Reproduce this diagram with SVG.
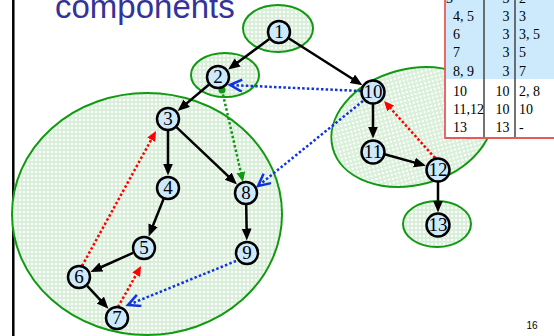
<svg xmlns="http://www.w3.org/2000/svg" width="554" height="336" viewBox="0 0 554 336">
<style>
.ell{fill:url(#dots);stroke:#129912;stroke-width:2}
.nd{fill:#cdeafd;stroke:#000;stroke-width:2.5}
.lb{font-family:"Liberation Serif","Times New Roman",serif;font-size:19px;text-anchor:middle;fill:#000}
.tr{fill:none;stroke:#000;stroke-width:2.5;marker-end:url(#ah)}
.bl{fill:none;stroke:#1133dd;stroke-width:2.5;stroke-dasharray:2.5 2.2;marker-end:url(#av)}
.rd{fill:none;stroke:#ff0000;stroke-width:2.5;stroke-dasharray:2.5 2.2;marker-end:url(#ar)}
.gr{fill:none;stroke:#119911;stroke-width:2.5;stroke-dasharray:2.5 2.2;marker-end:url(#ag)}
.tt{font-family:"Liberation Serif","Times New Roman",serif;font-size:14px;fill:#000}
.c2{text-anchor:end}
</style>
<defs>
<pattern id="dots" width="4" height="4" patternUnits="userSpaceOnUse">
<rect width="4" height="4" fill="#ffffff"/>
<circle cx="2" cy="2" r="1.3" fill="none" stroke="#9ad69a" stroke-width="0.6"/>
</pattern>
<marker id="ah" markerUnits="userSpaceOnUse" markerWidth="14" markerHeight="12" refX="6" refY="5" orient="auto">
<path d="M0,0 L12,5 L0,10 z" fill="#000"/>
</marker>
<marker id="ar" markerUnits="userSpaceOnUse" markerWidth="12" markerHeight="12" refX="5" refY="4.5" orient="auto">
<path d="M0,0 L10,4.5 L0,9 z" fill="#ff0000"/>
</marker>
<marker id="ag" markerUnits="userSpaceOnUse" markerWidth="12" markerHeight="12" refX="5" refY="4.5" orient="auto">
<path d="M0,0 L10,4.5 L0,9 z" fill="#119911"/>
</marker>
<marker id="av" markerUnits="userSpaceOnUse" markerWidth="16" markerHeight="16" refX="13" refY="7" orient="auto">
<path d="M1,1 L13,7 L1,13" fill="none" stroke="#1133dd" stroke-width="2.5"/>
</marker>
</defs>
<rect width="554" height="336" fill="#ffffff"/>
<line x1="13.3" y1="0" x2="13.3" y2="336" stroke="#000" stroke-width="2.5"/>
<text x="55" y="18" font-family="'Liberation Sans',Arial,sans-serif" font-size="33" fill="#333399">components</text>

<g id="components">
<ellipse id="scc-1" class="ell" cx="278" cy="28.5" rx="35" ry="23.5"/>
<ellipse id="scc-2" class="ell" cx="225" cy="75" rx="34" ry="22"/>
<ellipse id="scc-3" class="ell" cx="147" cy="214" rx="135" ry="121"/>
<ellipse id="scc-10" class="ell" cx="412" cy="127" rx="82" ry="58" transform="rotate(-15 412 127)"/>
<ellipse id="scc-13" class="ell" cx="437" cy="224" rx="34" ry="23"/>
</g>

<g id="table">
<rect x="445" y="-20" width="120" height="158" fill="#ffffff"/>
<rect x="445" y="-20" width="120" height="99" fill="#cdeafd"/>
<line x1="484" y1="-20" x2="484" y2="138" stroke="#444" stroke-width="1.5"/>
<line x1="515" y1="-20" x2="515" y2="138" stroke="#444" stroke-width="1.5"/>
<path d="M445,-20 L445,138 L560,138" fill="none" stroke="#e85a5a" stroke-width="1.8"/>
<text class="tt" x="446" y="3">3</text><text class="tt c2" x="509.5" y="3">3</text><text class="tt" x="519" y="3">2</text>
<text class="tt" x="453" y="21">4, 5</text><text class="tt c2" x="509.5" y="21">3</text><text class="tt" x="519" y="21">3</text>
<text class="tt" x="453" y="39">6</text><text class="tt c2" x="509.5" y="39">3</text><text class="tt" x="519" y="39">3, 5</text>
<text class="tt" x="453" y="57">7</text><text class="tt c2" x="509.5" y="57">3</text><text class="tt" x="519" y="57">5</text>
<text class="tt" x="453" y="75.5">8, 9</text><text class="tt c2" x="509.5" y="75.5">3</text><text class="tt" x="519" y="75.5">7</text>
<text class="tt" x="453" y="96">10</text><text class="tt c2" x="509.5" y="96">10</text><text class="tt" x="519" y="96">2, 8</text>
<text class="tt" x="453" y="114">11,12</text><text class="tt c2" x="509.5" y="114">10</text><text class="tt" x="519" y="114">10</text>
<text class="tt" x="453" y="132">13</text><text class="tt c2" x="509.5" y="132">13</text><text class="tt" x="519" y="132">-</text>
</g>

<g id="connectors">
<path class="tr" d="M269.3,39.1 L232.9,66.0"/>
<path class="tr" d="M289.1,38.5 L357.4,82.0"/>
<path class="tr" d="M208.8,84.7 L182.2,107.1"/>
<path class="tr" d="M168,131 L168,169.5"/>
<path class="tr" d="M176.7,127.3 L232.6,180.3"/>
<path class="tr" d="M163.5,199.1 L150.9,230.8"/>
<path class="tr" d="M133,252.9 L95.9,269.5"/>
<path class="tr" d="M87.2,285.8 L104.4,304.4"/>
<path class="tr" d="M246.2,205 L246.7,234.5"/>
<path class="tr" d="M373,104 L373,132.5"/>
<path class="tr" d="M384.6,154.2 L420.2,164.1"/>
<path class="tr" d="M438,181 L438,206.5"/>
<path class="bl" d="M361,91 L230,85"/>
<path class="bl" d="M363,101 L258,186"/>
<path class="bl" d="M236,261 L128,305"/>
<path class="gr" d="M222,90 L241.9,177.1"/>
<circle cx="222" cy="90" r="3.5" fill="#119911"/>
<path class="rd" d="M82,266 L153.6,135.4"/>
<circle cx="82" cy="266" r="1.8" fill="#ff0000"/>
<path class="rd" d="M118,307 L138.6,270.4"/>
<circle cx="118" cy="307" r="1.8" fill="#ff0000"/>
<path class="rd" d="M435,158 L387.3,104.7"/>
<circle cx="435" cy="158" r="1.8" fill="#ff0000"/>
</g>

<g id="n1"><circle class="nd" cx="279" cy="32" r="11"/><text class="lb" x="279" y="38.4">1</text></g>
<g id="n2"><circle class="nd" cx="218" cy="77" r="11"/><text class="lb" x="218" y="83.4">2</text></g>
<g id="n3"><circle class="nd" cx="168" cy="119" r="11"/><text class="lb" x="168" y="125.4">3</text></g>
<g id="n4"><circle class="nd" cx="168" cy="188" r="11"/><text class="lb" x="168" y="194.4">4</text></g>
<g id="n5"><circle class="nd" cx="144" cy="248" r="11"/><text class="lb" x="144" y="254.4">5</text></g>
<g id="n6"><circle class="nd" cx="79" cy="277" r="11"/><text class="lb" x="79" y="283.4">6</text></g>
<g id="n7"><circle class="nd" cx="117" cy="318" r="11"/><text class="lb" x="117" y="324.4">7</text></g>
<g id="n8"><circle class="nd" cx="246" cy="193" r="11"/><text class="lb" x="246" y="199.4">8</text></g>
<g id="n9"><circle class="nd" cx="247" cy="253" r="11"/><text class="lb" x="247" y="259.4">9</text></g>
<g id="n10"><circle class="nd" cx="373" cy="92" r="11.5"/><text class="lb" x="373" y="98.4">10</text></g>
<g id="n11"><circle class="nd" cx="373" cy="152" r="11.5"/><text class="lb" x="373" y="158.4">11</text></g>
<g id="n12"><circle class="nd" cx="438" cy="170" r="11.5"/><text class="lb" x="438" y="176.4">12</text></g>
<g id="n13"><circle class="nd" cx="438" cy="225" r="11.5"/><text class="lb" x="438" y="231.4">13</text></g>

<text x="532" y="329" font-family="'Liberation Sans',Arial,sans-serif" font-size="10" text-anchor="middle" fill="#000">16</text>
</svg>
